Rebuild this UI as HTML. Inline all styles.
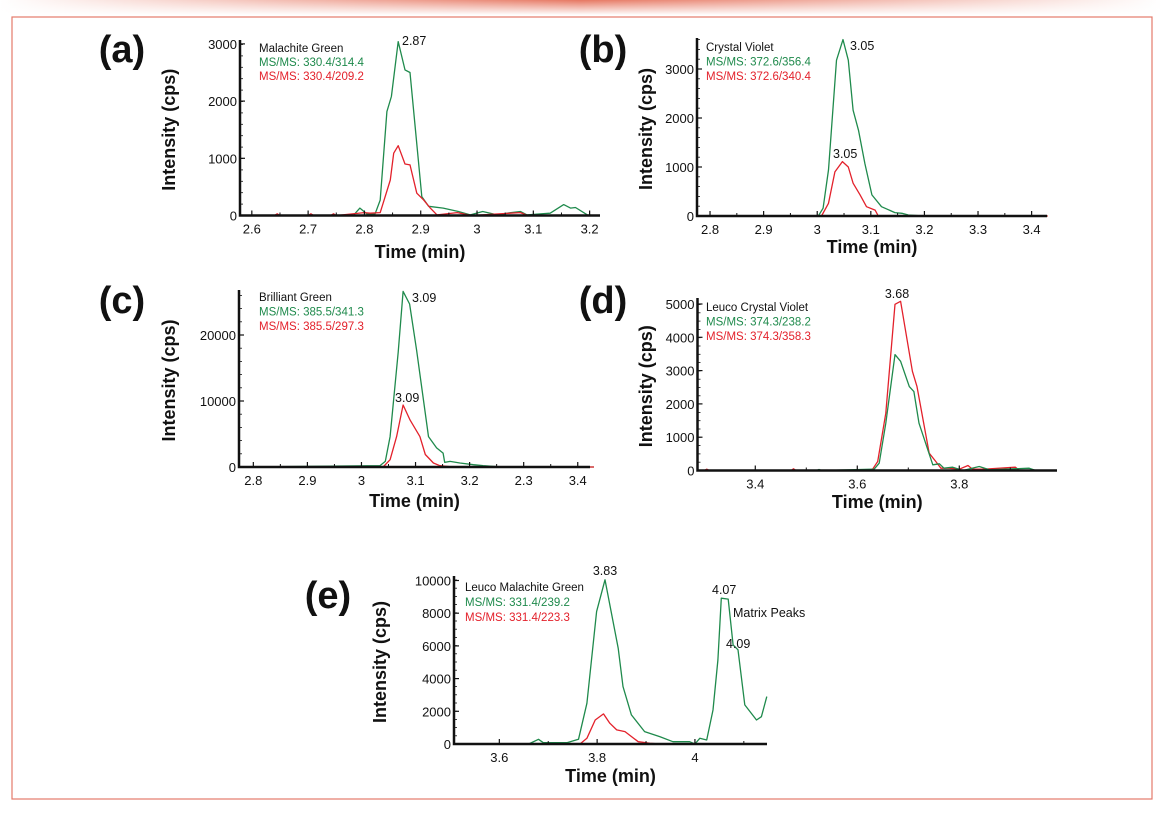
<!DOCTYPE html>
<html><head><meta charset="utf-8">
<style>
html,body{margin:0;padding:0;background:#fff;}
body{width:1162px;height:810px;overflow:hidden;position:relative;font-family:"Liberation Sans",sans-serif;}
svg text{font-family:"Liberation Sans",sans-serif;}
</style></head>
<body>
<svg id="fig" width="1162" height="810" viewBox="0 0 1162 810" xmlns="http://www.w3.org/2000/svg">
<defs>
<linearGradient id="topg" x1="0" x2="1" y1="0" y2="0">
<stop offset="0" stop-color="#fff"/><stop offset="0.5" stop-color="#e0553a"/><stop offset="1" stop-color="#fff"/>
</linearGradient>
<linearGradient id="topv" x1="0" x2="0" y1="0" y2="1">
<stop offset="0" stop-color="#fff" stop-opacity="0"/><stop offset="1" stop-color="#fff" stop-opacity="1"/>
</linearGradient>
</defs>
<rect x="0" y="0" width="1162" height="15" fill="url(#topg)" opacity="0.8"/>
<rect x="0" y="0" width="1162" height="15" fill="url(#topv)"/>
<rect x="12" y="17" width="1140" height="782" fill="none" stroke="#e47a6a" stroke-width="1.2"/>
</svg>
<script>
// ---- Panel (a) Malachite Green ----
const aGreenT=[2.58,2.78,2.792,2.804,2.819,2.828,2.840,2.848,2.860,2.872,2.881,2.902,2.914,2.94,2.967,2.988,3.01,3.036,3.06,3.077,3.089,3.13,3.154,3.166,3.175,3.196,3.216];
const aGreenV=[0,0,130,30,30,270,1817,2080,3040,2545,2500,330,160,130,70,10,70,10,50,70,10,40,190,130,140,10,0];
const aRedT=[2.58,2.64,2.645,2.65,2.70,2.705,2.71,2.74,2.745,2.75,2.80,2.81,2.828,2.846,2.852,2.860,2.872,2.881,2.893,2.905,2.917,2.929,2.965,2.99,3.077,3.09,3.216];
const aRedV=[0,0,30,0,0,30,0,0,30,0,50,40,50,620,1090,1220,900,885,390,275,130,10,50,0,50,0,0];
const aXTicks=[2.6,2.7,2.8,2.9,3,3.1,3.2];
const aXLabels=["2.6","2.7","2.8","2.9","3","3.1","3.2"];
const aYTicks=[0,1000,2000,3000];
const aYLabels=["0","1000","2000","3000"];
// ---- Panel (b) Crystal Violet ----
const bGreenT=[2.776,3.002,3.011,3.021,3.036,3.048,3.058,3.067,3.077,3.089,3.102,3.120,3.145,3.158,3.17,3.2,3.43];
const bGreenV=[0,0,160,940,3180,3600,3180,2160,1750,1070,430,190,70,55,20,0,0];
const bRedT=[2.776,3.008,3.021,3.033,3.047,3.058,3.067,3.080,3.092,3.108,3.114,3.43];
const bRedV=[0,0,260,900,1110,1000,670,430,190,120,0,0];
const bXTicks=[2.8,2.9,3,3.1,3.2,3.3,3.4];
const bXLabels=["2.8","2.9","3","3.1","3.2","3.3","3.4"];
const bYTicks=[0,1000,2000,3000];
const bYLabels=["0","1000","2000","3000"];
// ---- Panel (c) Brilliant Green ----
const cGreenT=[2.774,3.034,3.044,3.053,3.068,3.077,3.089,3.102,3.124,3.139,3.151,3.154,3.164,3.182,3.207,3.225,3.26,3.43];
const cGreenV=[0,200,850,4600,17400,26600,24700,17700,4600,2900,2100,700,850,600,350,200,0,0];
const cRedT=[2.774,3.040,3.053,3.065,3.077,3.09,3.108,3.118,3.133,3.145,3.17,3.43];
const cRedV=[0,0,1100,4600,9400,7100,4600,1900,600,200,0,0];
const cXTicks=[2.8,2.9,3,3.1,3.2,3.3,3.4];
const cXLabels=["2.8","2.9","3","3.1","3.2","2.3","3.4"];
const cYTicks=[0,10000,20000];
const cYLabels=["0","10000","20000"];
// ---- Panel (d) Leuco Crystal Violet ----
const dRedT=[3.29,3.30,3.305,3.31,3.47,3.475,3.48,3.617,3.63,3.64,3.656,3.674,3.685,3.708,3.717,3.741,3.754,3.764,3.78,3.8,3.817,3.826,3.85,3.91,3.918,3.96];
const dRedV=[0,0,40,0,0,50,0,0,40,270,1720,4990,5080,2980,2520,520,270,70,70,40,150,40,40,100,0,0];
const dGreenT=[3.29,3.52,3.525,3.53,3.633,3.643,3.656,3.674,3.685,3.702,3.711,3.721,3.748,3.761,3.77,3.787,3.807,3.839,3.859,3.937,3.95];
const dGreenV=[0,0,30,0,40,220,1420,3480,3280,2520,2370,1420,170,200,70,100,0,120,20,70,0];
const dXTicks=[3.4,3.6,3.8];
const dXLabels=["3.4","3.6","3.8"];
const dYTicks=[0,1000,2000,3000,4000,5000];
const dYLabels=["0","1000","2000","3000","4000","5000"];
// ---- Panel (e) Leuco Malachite Green ----
const eGreenT=[3.51,3.66,3.68,3.69,3.738,3.762,3.779,3.799,3.816,3.843,3.853,3.870,3.897,3.928,3.955,3.989,4.0,4.01,4.024,4.037,4.047,4.054,4.068,4.078,4.088,4.102,4.126,4.136,4.147];
const eGreenV=[0,0,290,80,80,290,2490,8100,10040,5860,3510,1780,760,450,140,140,0,350,245,2080,5140,8920,8860,6060,5760,2390,1470,1670,2900];
const eRedT=[3.51,3.765,3.779,3.796,3.813,3.826,3.84,3.857,3.884,3.908,3.93,4.147];
const eRedV=[0,0,350,1470,1840,1270,860,760,140,40,0,0];
const eXTicks=[3.6,3.8,4];
const eXLabels=["3.6","3.8","4"];
const eYTicks=[0,2000,4000,6000,8000,10000];
const eYLabels=["0","2000","4000","6000","8000","10000"];

const NS="http://www.w3.org/2000/svg";
const fig=document.getElementById('fig');
const GREEN="#1f8a4c", RED="#e3212b";
function mk(tag,attrs,parent){const e=document.createElementNS(NS,tag);for(const k in attrs)e.setAttribute(k,attrs[k]);(parent||fig).appendChild(e);return e;}

function panel(p){
  const g=mk('g',{});
  
  
  const xs=t=>p.x0+(t-p.t0)*p.pxPerUnitX;
  const ys=v=>p.y0-v*p.pxPerUnitY;
  p.series.forEach(s=>{
    let d='';
    s.t.forEach((t,i)=>{d+=(i?'L':'M')+xs(t).toFixed(1)+','+ys(s.v[i]).toFixed(1);});
    const path=mk('path',{d:d,fill:'none',stroke:s.color,'stroke-width':1.3,'stroke-linejoin':'round'},g);
    
    
  });
  const ax=mk('path',{d:`M${p.x0},${p.yTop}L${p.x0},${p.y0}L${p.xEnd},${p.y0}`,fill:'none',stroke:'#111','stroke-width':2.5},g);
  
  
  p.xTicks.forEach((t,i)=>{
    const x=xs(t);
    mk('line',{x1:x,x2:x,y1:p.y0,y2:p.y0-5,stroke:'#111','stroke-width':1.2},g);
    const xm=x+p.pxPerUnitX*p.minorX;
    if(xm<p.xEnd-2) mk('line',{x1:xm,x2:xm,y1:p.y0,y2:p.y0-3,stroke:'#111','stroke-width':1},g);
    const tx=mk('text',{x:x,y:p.y0+18,'font-size':13,'text-anchor':'middle',fill:'#111'},g);
    tx.textContent=p.xLabels[i];
    
    
  });
  p.yTicks.forEach((v,i)=>{
    const y=ys(v);
    mk('line',{x1:p.x0,x2:p.x0+5,y1:y,y2:y,stroke:'#111','stroke-width':1.2},g);
    const ty=mk('text',{x:p.x0-3,y:y+5,'font-size':13,'text-anchor':'end',fill:'#111'},g);
    ty.textContent=p.yLabels[i];
    
    
  });
  for(let y=p.y0;y>p.yTop;y-=p.minorY){mk('line',{x1:p.x0,x2:p.x0+3,y1:y,y2:y,stroke:'#111','stroke-width':0.8},g);}
  const yt=mk('text',{x:0,y:0,'font-size':18,'font-weight':'bold','text-anchor':'middle',fill:'#111',transform:`translate(${p.yTitleX},${(p.yTop+p.y0)/2+2}) rotate(-90)`},g);
  yt.textContent='Intensity (cps)';
  
  
  const xt=mk('text',{x:(p.x0+p.xEnd)/2,y:p.xTitleY,'font-size':18,'font-weight':'bold','text-anchor':'middle',fill:'#111'},g);
  xt.textContent='Time (min)';
  
  
  const lt=mk('text',{x:p.letterX,y:p.letterY,'font-size':38,'font-weight':'bold','text-anchor':'middle',fill:'#111'},g);
  lt.textContent='('+p.id+')';
  
  
  p.legend.forEach((L,i)=>{
    const t=mk('text',{x:p.legX,y:p.legY+i*p.legDy,'font-size':11.5,fill:L[1]},g);
    t.textContent=L[0];
    
    
  });
  p.notes.forEach(n=>{
    const t=mk('text',{x:n[1],y:n[2],'font-size':12.5,fill:'#111','text-anchor':n[3]||'start'},g);
    t.textContent=n[0];
    
    
  });
}

panel({id:'a',x0:240,t0:2.579,pxPerUnitX:563,y0:215.5,pxPerUnitY:0.0572,yTop:40,xEnd:600,
  series:[{name:'series-green-314',t:aGreenT,v:aGreenV,color:GREEN},{name:'series-red-209',t:aRedT,v:aRedV,color:RED}],
  xTicks:aXTicks,xLabels:aXLabels,yTicks:aYTicks,yLabels:aYLabels,minorX:0.05,minorY:11.4,
  yTitleX:175,xTitleY:258,letterX:122,letterY:62,legX:259,legY:52,legDy:14,
  legend:[['Malachite Green','#111'],['MS/MS: 330.4/314.4',GREEN],['MS/MS: 330.4/209.2',RED]],
  notes:[['2.87',402,45]]});
panel({id:'b',x0:697,t0:2.7757,pxPerUnitX:536,y0:216,pxPerUnitY:0.049,yTop:38,xEnd:1047,
  series:[{name:'series-green-356',t:bGreenT,v:bGreenV,color:GREEN},{name:'series-red-340',t:bRedT,v:bRedV,color:RED}],
  xTicks:bXTicks,xLabels:bXLabels,yTicks:bYTicks,yLabels:bYLabels,minorX:0.05,minorY:9.8,
  yTitleX:652,xTitleY:253,letterX:603,letterY:62,legX:706,legY:51,legDy:14.5,
  legend:[['Crystal Violet','#111'],['MS/MS: 372.6/356.4',GREEN],['MS/MS: 372.6/340.4',RED]],
  notes:[['3.05',850,50],['3.05',833,158]]});
panel({id:'c',x0:239,t0:2.7735,pxPerUnitX:540.7,y0:467,pxPerUnitY:0.0066,yTop:290,xEnd:590,
  series:[{name:'series-green-341',t:cGreenT,v:cGreenV,color:GREEN},{name:'series-red-297',t:cRedT,v:cRedV,color:RED}],
  xTicks:cXTicks,xLabels:cXLabels,yTicks:cYTicks,yLabels:cYLabels,minorX:0.05,minorY:13.2,
  yTitleX:175,xTitleY:507,letterX:122,letterY:313,legX:259,legY:301,legDy:14.5,
  legend:[['Brilliant Green','#111'],['MS/MS: 385.5/341.3',GREEN],['MS/MS: 385.5/297.3',RED]],
  notes:[['3.09',412,302],['3.09',395,402]]});
panel({id:'d',x0:697.5,t0:3.2867,pxPerUnitX:510,y0:470.5,pxPerUnitY:0.0333,yTop:298,xEnd:1057,
  series:[{name:'series-red-358',t:dRedT,v:dRedV,color:RED},{name:'series-green-238',t:dGreenT,v:dGreenV,color:GREEN}],
  xTicks:dXTicks,xLabels:dXLabels,yTicks:dYTicks,yLabels:dYLabels,minorX:0.1,minorY:8.3,
  yTitleX:652,xTitleY:508,letterX:603,letterY:313,legX:706,legY:311,legDy:14.5,
  legend:[['Leuco Crystal Violet','#111'],['MS/MS: 374.3/238.2',GREEN],['MS/MS: 374.3/358.3',RED]],
  notes:[['3.68',897,298,'middle']]});
panel({id:'e',x0:454,t0:3.5073,pxPerUnitX:489,y0:744,pxPerUnitY:0.01635,yTop:576,xEnd:767,
  series:[{name:'series-green-239',t:eGreenT,v:eGreenV,color:GREEN},{name:'series-red-223',t:eRedT,v:eRedV,color:RED}],
  xTicks:eXTicks,xLabels:eXLabels,yTicks:eYTicks,yLabels:eYLabels,minorX:0.1,minorY:8.2,
  yTitleX:386,xTitleY:782,letterX:328,letterY:608,legX:465,legY:591,legDy:15,
  legend:[['Leuco Malachite Green','#111'],['MS/MS: 331.4/239.2',GREEN],['MS/MS: 331.4/223.3',RED]],
  notes:[['3.83',605,575,'middle'],['4.07',712,594],['Matrix Peaks',733,617],['4.09',726,648]]});
</script>
</body></html>
